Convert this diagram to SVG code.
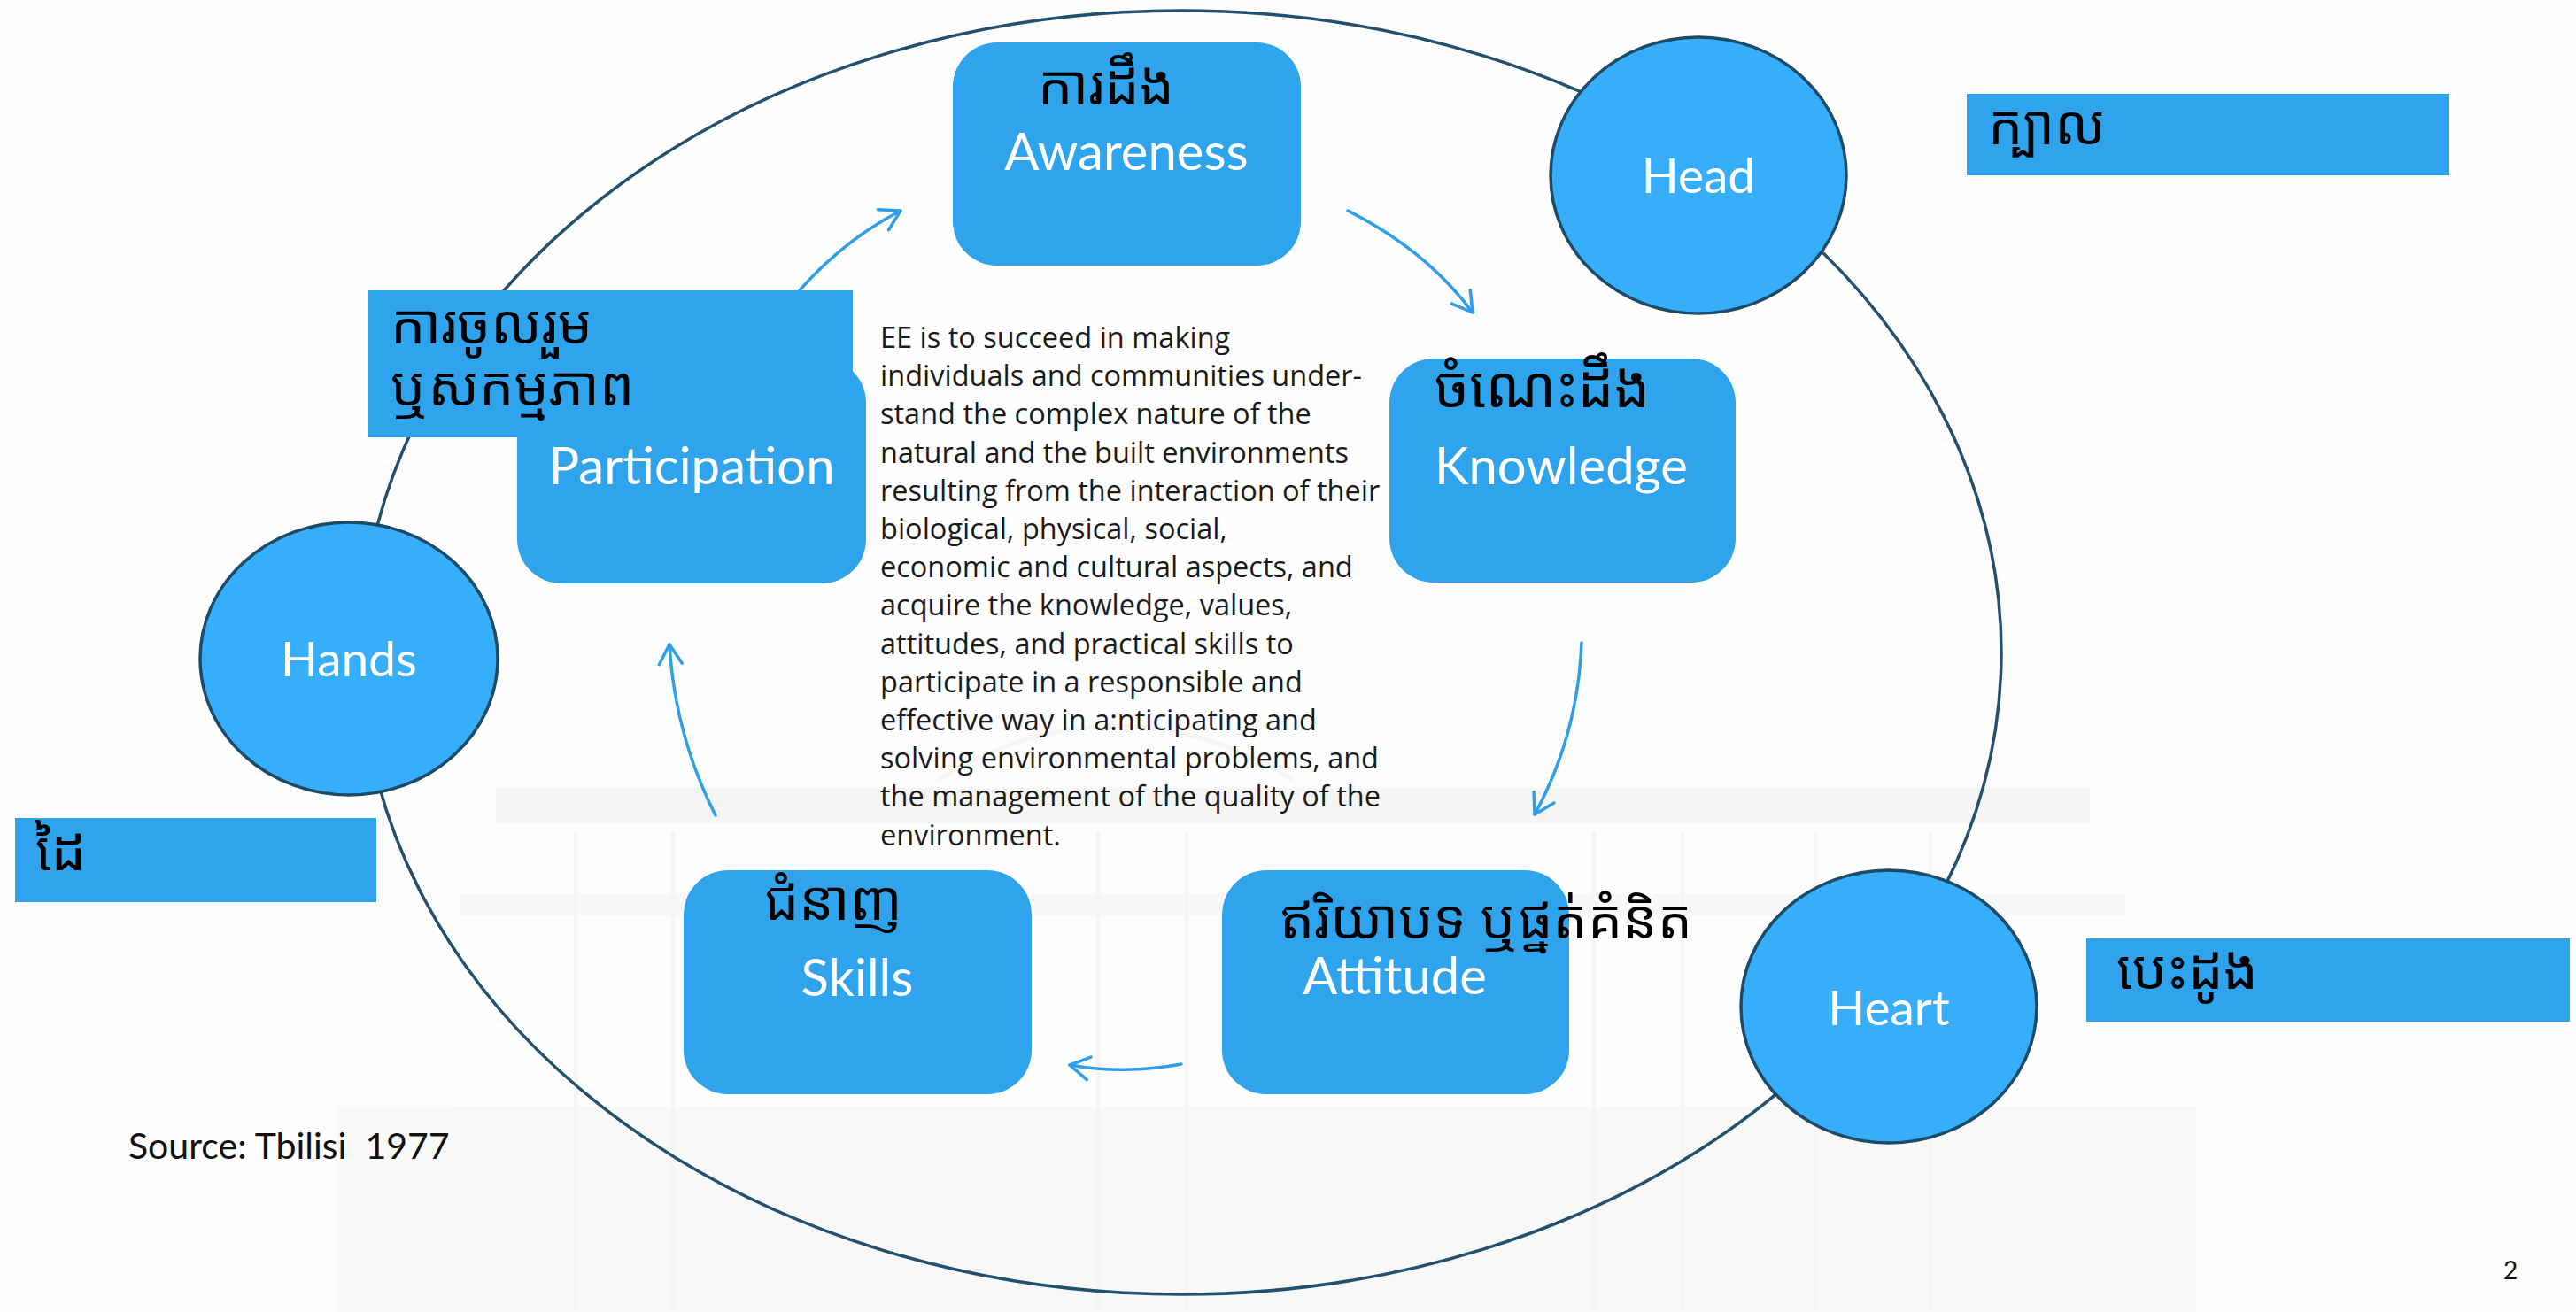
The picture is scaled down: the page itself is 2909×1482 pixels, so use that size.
<svg xmlns="http://www.w3.org/2000/svg" width="2909" height="1482" viewBox="0 0 2909 1482">
<defs>
<style>
.box{fill:#2fa3ec}
.tag{fill:#2fa3ec}
.circ{fill:#37aefa;stroke:#1d4a66;stroke-width:3.5}
.lbl{font-family:Lato,"Open Sans",sans-serif;font-size:58px;fill:#ffffff;text-anchor:middle}
.clbl{font-family:Lato,"Open Sans",sans-serif;font-size:55px;fill:#ffffff;text-anchor:middle}
.km{font-family:"Noto Sans Khmer","Noto Serif Khmer","Khmer OS","Khmer OS System","Noto Sans",sans-serif;font-size:62px;fill:#000000}
.para{font-family:"Open Sans","Noto Sans",sans-serif;font-size:32.5px;fill:#1a1a1a}
.conn{fill:none;stroke:#2f9ee8;stroke-width:3.5;stroke-linecap:round}
.wm{fill:none;stroke:#f0f1ee;stroke-width:5}
</style>
<marker id="ah" viewBox="-26 -16 28 32" refX="0" refY="0" markerWidth="28" markerHeight="32" markerUnits="userSpaceOnUse" orient="auto">
<path d="M-22,-13 L0,0 L-22,13" fill="none" stroke="#2f9ee8" stroke-width="3.5" stroke-linecap="round" stroke-linejoin="round"/>
</marker>
</defs>
<rect x="0" y="0" width="2909" height="1482" fill="#fdfdfd"/>
<g id="watermark" opacity="0.6">
<rect x="560" y="890" width="1800" height="40" fill="#f1f3ee"/>
<rect x="520" y="1010" width="1880" height="24" fill="#f3f4f2"/>
<rect x="380" y="1250" width="2100" height="232" fill="#f6f6f5"/>
<path class="wm" d="M650 940 V1480 M760 940 V1480 M1240 940 V1480 M1340 940 V1480 M1800 940 V1480 M1900 940 V1480 M2050 940 V1480 M2180 940 V1480"/>
<path class="wm" d="M1060 880 Q1260 760 1460 880"/>
</g>
<g id="ring">
<ellipse cx="1334" cy="737" rx="926" ry="725" fill="none" stroke="#23506f" stroke-width="3.5"/>
</g>
<g id="connectors">
<path class="conn" d="M903,328 Q952,272 1017,238" marker-end="url(#ah)"/>
<path class="conn" d="M1522,238 Q1610,282 1663,353" marker-end="url(#ah)"/>
<path class="conn" d="M1786,726 Q1782,830 1733,920" marker-end="url(#ah)"/>
<path class="conn" d="M1334,1202 Q1270,1214 1208,1203" marker-end="url(#ah)"/>
<path class="conn" d="M808,921 Q762,830 756,728" marker-end="url(#ah)"/>
</g>
<g id="awareness">
<rect class="box" x="1076" y="48" width="393" height="252" rx="50"/>
<text class="km" x="1172" y="118">ការដឹង</text>
<text class="lbl" x="1272" y="192">Awareness</text>
</g>
<g id="knowledge">
<rect class="box" x="1569" y="405" width="391" height="253" rx="50"/>
<text class="km" x="1620" y="460" style="font-size:64px">ចំណេះដឹង</text>
<text class="lbl" x="1763" y="547">Knowledge</text>
</g>
<g id="attitude">
<rect class="box" x="1380" y="983" width="392" height="253" rx="50"/>
<text class="lbl" x="1575" y="1123">Attitude</text>
<text class="km" x="1445" y="1060">ឥរិយាបទ ឬផ្នត់គំនិត</text>
</g>
<g id="skills">
<rect class="box" x="772" y="983" width="393" height="253" rx="50"/>
<text class="km" x="863" y="1039">ជំនាញ</text>
<text class="lbl" x="968" y="1125">Skills</text>
</g>
<g id="participation">
<rect class="box" x="584" y="405" width="394" height="254" rx="50"/>
<text class="lbl" x="781" y="547">Participation</text>
<rect class="tag" x="416" y="328" width="547" height="166"/>
<text class="km" x="441" y="388">ការចូលរួម</text>
<text class="km" x="441" y="458">ឬសកម្មភាព</text>
</g>
<g id="head">
<ellipse class="circ" cx="1918" cy="198" rx="167" ry="156"/>
<text class="clbl" x="1918" y="218">Head</text>
</g>
<g id="head-km">
<rect class="tag" x="2221" y="106" width="545" height="92"/>
<text class="km" x="2245" y="163">ក្បាល</text>
</g>
<g id="hands">
<ellipse class="circ" cx="394" cy="744" rx="168" ry="154"/>
<text class="clbl" x="394" y="764">Hands</text>
</g>
<g id="hands-km">
<rect class="tag" x="17" y="924" width="408" height="95"/>
<text class="km" x="40" y="983">ដៃ</text>
</g>
<g id="heart">
<ellipse class="circ" cx="2133" cy="1137" rx="167" ry="154"/>
<text class="clbl" x="2133" y="1158">Heart</text>
</g>
<g id="heart-km">
<rect class="tag" x="2356" y="1060" width="546" height="94"/>
<text class="km" x="2390" y="1117">បេះដូង</text>
</g>
<g id="definition">
<text class="para">
<tspan x="994" y="393">EE is to succeed in making</tspan>
<tspan x="994" y="436.2">individuals and communities under-</tspan>
<tspan x="994" y="479.4">stand the complex nature of the</tspan>
<tspan x="994" y="522.6">natural and the built environments</tspan>
<tspan x="994" y="565.8">resulting from the interaction of their</tspan>
<tspan x="994" y="609">biological, physical, social,</tspan>
<tspan x="994" y="652.2">economic and cultural aspects, and</tspan>
<tspan x="994" y="695.4">acquire the knowledge, values,</tspan>
<tspan x="994" y="738.6">attitudes, and practical skills to</tspan>
<tspan x="994" y="781.8">participate in a responsible and</tspan>
<tspan x="994" y="825">effective way in a:nticipating and</tspan>
<tspan x="994" y="868.2">solving environmental problems, and</tspan>
<tspan x="994" y="911.4">the management of the quality of the</tspan>
<tspan x="994" y="954.6">environment.</tspan>
</text>
</g>
<g id="source">
<text x="145" y="1309" xml:space="preserve" style="font-family:Lato,sans-serif;font-size:41px;fill:#111">Source: Tbilisi  1977</text>
</g>
<g id="page">
<text x="2835" y="1445" style="font-family:Lato,sans-serif;font-size:28px;fill:#111;text-anchor:middle">2</text>
</g>
</svg>
